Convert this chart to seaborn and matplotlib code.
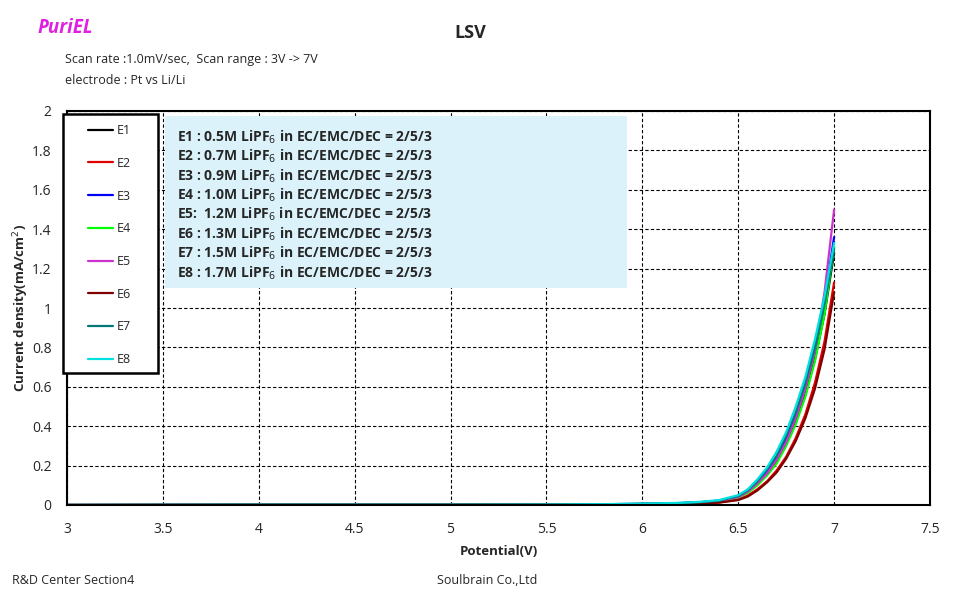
import matplotlib.pyplot as plt
import matplotlib.patches as mpatches
from matplotlib.lines import Line2D
import pandas as pd
import seaborn as sns

# LSV curves
potential = [3.0, 4.0, 5.0, 5.5, 5.8, 6.0, 6.2, 6.3, 6.4, 6.5, 6.55, 6.6, 6.65,
             6.7, 6.75, 6.8, 6.85, 6.9, 6.95, 7.0]
e1 = [0, 0.001, 0.001, 0.002, 0.003, 0.005, 0.009, 0.012, 0.02, 0.04, 0.065, 0.105,
      0.155, 0.22, 0.31, 0.42, 0.56, 0.74, 0.97, 1.28]
e2 = [0, 0.001, 0.001, 0.002, 0.003, 0.004, 0.006, 0.008, 0.013, 0.028, 0.048, 0.08,
      0.12, 0.175, 0.245, 0.34, 0.46, 0.62, 0.83, 1.13]
e3 = [0, 0.001, 0.001, 0.002, 0.004, 0.006, 0.010, 0.014, 0.022, 0.045, 0.072, 0.115,
      0.17, 0.24, 0.34, 0.46, 0.61, 0.80, 1.04, 1.36]
e4 = [0, 0.001, 0.001, 0.002, 0.003, 0.005, 0.009, 0.012, 0.019, 0.038, 0.062, 0.10,
      0.15, 0.21, 0.30, 0.41, 0.55, 0.73, 0.97, 1.31]
e5 = [0, 0.001, 0.001, 0.002, 0.003, 0.005, 0.009, 0.013, 0.02, 0.04, 0.068, 0.11,
      0.16, 0.23, 0.32, 0.44, 0.59, 0.78, 1.08, 1.50]
e6 = [0, 0.001, 0.001, 0.002, 0.003, 0.004, 0.006, 0.008, 0.012, 0.025, 0.043, 0.074,
      0.115, 0.165, 0.235, 0.325, 0.44, 0.59, 0.79, 1.08]
e7 = [0, 0.001, 0.001, 0.002, 0.004, 0.006, 0.010, 0.014, 0.022, 0.045, 0.075, 0.12,
      0.18, 0.25, 0.35, 0.47, 0.62, 0.80, 1.02, 1.30]
e8 = [0, 0.001, 0.001, 0.002, 0.004, 0.007, 0.011, 0.016, 0.025, 0.05, 0.08, 0.13,
      0.19, 0.27, 0.37, 0.50, 0.65, 0.84, 1.06, 1.33]

names = ['E1', 'E2', 'E3', 'E4', 'E5', 'E6', 'E7', 'E8']
colors = ['#000000', '#E00000', '#0000FF', '#00FF00', '#CC33CC', '#800000', '#007878', '#00E0E0']
conc = ['0.5M', '0.7M', '0.9M', '1.0M', '1.2M', '1.3M', '1.5M', '1.7M']
sep = [' : ', ' : ', ' : ', ' : ', ':  ', ' : ', ' : ', ' : ']

series = [e1, e2, e3, e4, e5, e6, e7, e8]
df = pd.concat([pd.DataFrame({'V': potential, 'J': s, 'cell': n})
                for n, s in zip(names, series)], ignore_index=True)

sns.set_style('white')
plt.rcParams['font.family'] = ['Open Sans', 'DejaVu Sans']

fig = plt.figure(figsize=(9.73, 5.92), dpi=100)
ax = fig.add_axes([67 / 973, 1 - 505 / 592, 863 / 973, 394 / 592])

sns.lineplot(data=df, x='V', y='J', hue='cell', palette=dict(zip(names, colors)),
             sort=False, linewidth=1.6, legend=False, ax=ax)

ax.set_xlim(3, 7.5)
ax.set_ylim(0, 2)
ax.set_xticks([3, 3.5, 4, 4.5, 5, 5.5, 6, 6.5, 7, 7.5])
ax.set_xticklabels(['3', '3.5', '4', '4.5', '5', '5.5', '6', '6.5', '7', '7.5'])
ax.set_yticks([0, 0.2, 0.4, 0.6, 0.8, 1, 1.2, 1.4, 1.6, 1.8, 2])
ax.set_yticklabels(['0', '0.2', '0.4', '0.6', '0.8', '1', '1.2', '1.4', '1.6', '1.8', '2'])
ax.tick_params(labelsize=10, length=0)
ax.tick_params(axis='x', pad=12)
ax.tick_params(axis='y', pad=11)
ax.grid(True, color='black', linestyle=(0, (3, 2)), linewidth=0.8)
for sp in ax.spines.values():
    sp.set_color('black')
    sp.set_linewidth(1.5)
ax.set_xlabel('Potential(V)', fontsize=9.5, fontweight='bold', labelpad=6)
ax.set_ylabel('Current density(mA/cm$^2$)', fontsize=9.5, fontweight='bold', labelpad=1)

# composition box
ax.add_patch(mpatches.Rectangle((98 / 863, 217 / 394), 462 / 863, 172 / 394,
                                transform=ax.transAxes, facecolor='#DCF2FA',
                                edgecolor='none', zorder=3))
for i in range(8):
    ax.text(110 / 863, (505 - 137 - i * 19.4) / 394,
            names[i] + sep[i] + conc[i] + ' LiPF$_6$ in EC/EMC/DEC = 2/5/3',
            transform=ax.transAxes, fontsize=10, fontweight='bold', va='center', zorder=4)

# legend box
ax.add_patch(mpatches.Rectangle((-4 / 863, 132 / 394), 95 / 863, 259 / 394,
                                transform=ax.transAxes, facecolor='white',
                                edgecolor='black', linewidth=1.8, zorder=5, clip_on=False))
handles = [Line2D([], [], color=c, linewidth=1.6) for c in colors]
leg = ax.legend(handles, names, loc='upper left', bbox_to_anchor=(21 / 863, 381 / 394),
                frameon=False, fontsize=9, handlelength=2.0, handletextpad=0.3,
                labelspacing=1.58, borderpad=0, borderaxespad=0)
leg.set_zorder(6)

fig.text(38 / 973, 1 - 28 / 592, 'PuriEL', fontsize=13.5, fontweight='bold', style='italic',
         color='#E020E0', va='center')
fig.text(470 / 973, 1 - 33 / 592, 'LSV', fontsize=13, fontweight='bold', ha='center', va='center')
fig.text(65 / 973, 1 - 60 / 592, 'Scan rate :1.0mV/sec,  Scan range : 3V -> 7V', fontsize=9, va='center')
fig.text(65 / 973, 1 - 81 / 592, 'electrode : Pt vs Li/Li', fontsize=9, va='center')
fig.text(12 / 973, 1 - 580 / 592, 'R&D Center Section4', fontsize=9, va='center')
fig.text(437 / 973, 1 - 580 / 592, 'Soulbrain Co.,Ltd', fontsize=9, va='center')

fig.savefig('out.png', dpi=100)
